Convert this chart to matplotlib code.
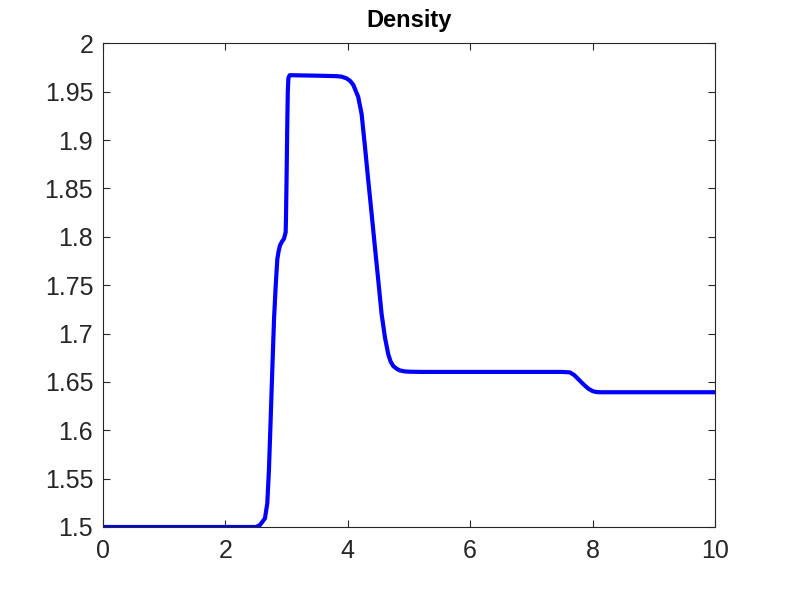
import matplotlib
matplotlib.use("Agg")
import matplotlib.pyplot as plt

x = [0.0, 2.50, 2.565, 2.647, 2.685, 2.712, 2.740, 2.767, 2.795, 2.822, 2.849, 2.870, 2.892,
     2.925, 2.958, 2.985, 2.99, 3.00, 3.01, 3.02, 3.03, 3.05, 3.50, 3.818, 3.90, 3.98, 4.04,
     4.09, 4.17, 4.226, 4.281, 4.335, 4.390, 4.444, 4.499, 4.553, 4.608, 4.662, 4.70, 4.744,
     4.80, 4.853, 4.93, 5.016, 5.20, 7.50, 7.63, 7.70, 7.78, 7.85, 7.93, 8.00, 8.06, 8.12,
     8.20, 10.0]
density = [1.5, 1.5, 1.502, 1.509, 1.5246, 1.559, 1.611, 1.663, 1.7147, 1.749, 1.777, 1.785,
           1.791, 1.795, 1.798, 1.8047, 1.818, 1.86, 1.91, 1.95, 1.964, 1.967, 1.9665, 1.966,
           1.9655, 1.9637, 1.961, 1.957, 1.9447, 1.927, 1.893, 1.858, 1.8237, 1.789, 1.7545,
           1.720, 1.6957, 1.6784, 1.671, 1.6663, 1.6635, 1.6618, 1.6608, 1.6605, 1.6603, 1.6603,
           1.6598, 1.657, 1.652, 1.6475, 1.643, 1.6405, 1.6395, 1.6393, 1.6393, 1.6393]

xticks = [0, 2, 4, 6, 8, 10]
yticks = [1.5, 1.55, 1.6, 1.65, 1.7, 1.75, 1.8, 1.85, 1.9, 1.95, 2.0]
ytick_labels = ["1.5", "1.55", "1.6", "1.65", "1.7", "1.75", "1.8", "1.85", "1.9", "1.95", "2"]

plt.rcParams['font.family'] = ['Liberation Sans', 'DejaVu Sans']
fig = plt.figure(figsize=(7.89, 5.92), dpi=100)
ax = fig.add_axes([0.1305, 0.1098, 0.7757, 0.8171])
ax.plot(x, density, color='#0000ff', linewidth=3, solid_joinstyle='round', solid_capstyle='butt')
ax.set_xlim(0, 10)
ax.set_ylim(1.5, 2.0)
ax.set_xticks(xticks)
ax.set_xticklabels([str(t) for t in xticks])
ax.set_yticks(yticks)
ax.set_yticklabels(ytick_labels)
edge = '#262626'
for s in ax.spines.values():
    s.set_color(edge)
    s.set_linewidth(0.8)
ax.tick_params(direction='in', length=5, width=0.8, colors=edge, labelsize=18,
               top=True, right=True, labelcolor='#262626')
ax.tick_params(axis='x', pad=9)
ax.tick_params(axis='y', pad=7)
ax.set_title("Density", fontsize=17, fontweight='bold', pad=12)
fig.savefig("out.png", dpi=100)
